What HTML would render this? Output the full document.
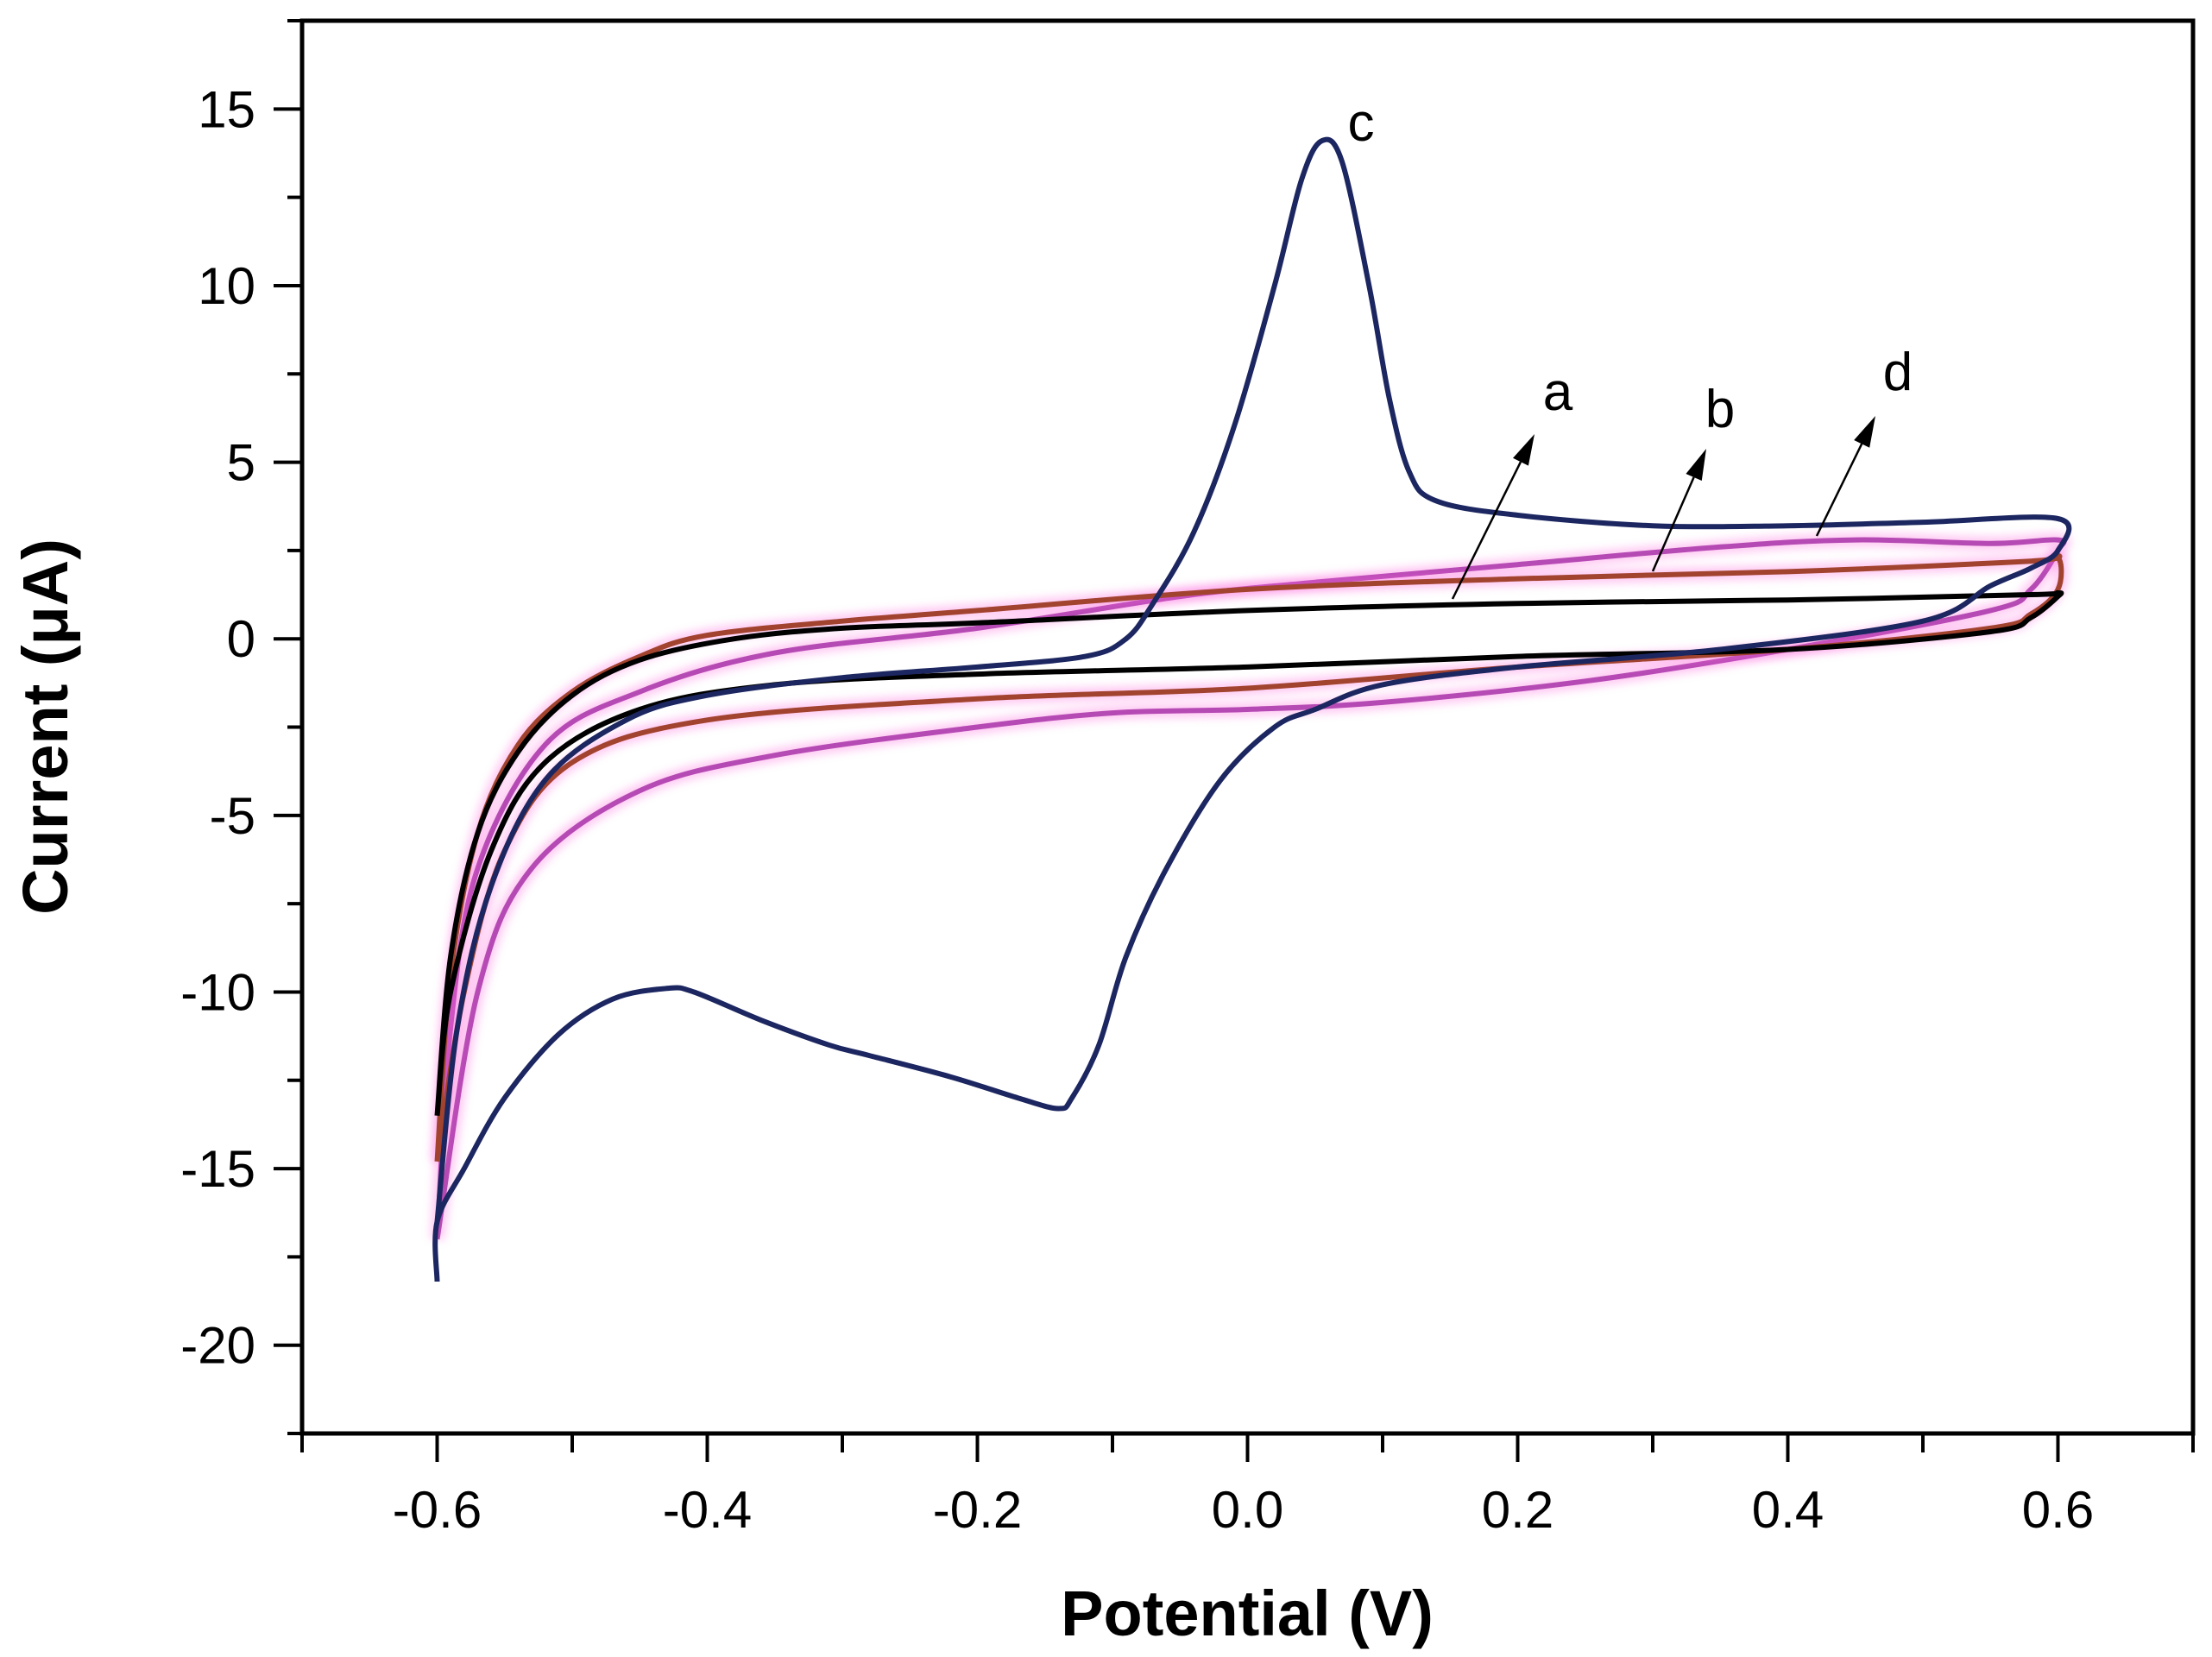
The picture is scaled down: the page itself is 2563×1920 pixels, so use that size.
<!DOCTYPE html>
<html><head><meta charset="utf-8"><style>
html,body{margin:0;padding:0;background:#fff;}
svg{display:block;}
text{font-family:"Liberation Sans",Arial,sans-serif;fill:#000;}
</style></head><body>
<svg id="chart" width="2563" height="1920" viewBox="0 0 2563 1920">
<defs><filter id="glow" x="-5%" y="-5%" width="110%" height="110%"><feGaussianBlur stdDeviation="5"/></filter></defs>
<g id="series"></g>
<g id="axes"></g>
</svg>
<script>
const xTicks=[-0.6,-0.4,-0.2,0.0,0.2,0.4,0.6];
const xTickLabels=["-0.6","-0.4","-0.2","0.0","0.2","0.4","0.6"];
const yTicks=[15,10,5,0,-5,-10,-15,-20];
const yTickLabels=["15","10","5","0","-5","-10","-15","-20"];
// curve a (black)
const aX=[-0.6,-0.59,-0.57,-0.54,-0.5,-0.45,-0.38,-0.3,-0.2,0,0.2,0.4,0.58,0.6,0.6,0.58,0.55,0.4,0.2,0,-0.2,-0.35,-0.45,-0.52,-0.56,-0.59,-0.6];
const aY=[-13.5,-9,-5.5,-3.2,-1.6,-0.6,0,0.3,0.45,0.8,1.0,1.1,1.25,1.3,1.2,0.6,0.2,-0.3,-0.5,-0.8,-1.0,-1.3,-2.0,-3.5,-6,-10,-13.5];
// curve b (brown)
const bX=[-0.6,-0.59,-0.57,-0.54,-0.5,-0.45,-0.4,-0.3,-0.2,0,0.2,0.4,0.58,0.6,0.6,0.58,0.55,0.4,0.2,0,-0.2,-0.4,-0.5,-0.55,-0.58,-0.6];
const bY=[-14.8,-9.5,-5.5,-3,-1.5,-0.5,0.1,0.5,0.8,1.4,1.7,1.9,2.2,2.3,1.4,0.7,0.3,-0.3,-0.8,-1.4,-1.7,-2.3,-3.5,-6,-10,-14.8];
// curve d (magenta)
const dX=[-0.6,-0.59,-0.57,-0.52,-0.45,-0.35,-0.2,-0.05,0.05,0.2,0.35,0.45,0.55,0.6,0.6,0.58,0.55,0.4,0.25,0.1,0,-0.1,-0.2,-0.35,-0.45,-0.53,-0.57,-0.6];
const dY=[-17,-11,-6.5,-3,-1.5,-0.4,0.3,1.2,1.6,2.1,2.6,2.8,2.7,2.8,2.5,1.4,0.8,-0.3,-1.2,-1.8,-2.0,-2.1,-2.5,-3.3,-4.3,-6.5,-10,-17];
// curve c (navy)
const cX=[-0.6,-0.585,-0.56,-0.52,-0.46,-0.4,-0.3,-0.2,-0.12,-0.09,-0.07,-0.04,-0.01,0.02,0.04,0.055,0.07,0.09,0.105,0.12,0.14,0.2,0.3,0.4,0.5,0.6,0.6,0.58,0.55,0.5,0.35,0.2,0.1,0.05,0.02,-0.02,-0.06,-0.09,-0.11,-0.13,-0.14,-0.17,-0.22,-0.28,-0.31,-0.36,-0.41,-0.43,-0.47,-0.51,-0.55,-0.58,-0.6,-0.6];
const cY=[-16.5,-11,-7,-4,-2.3,-1.6,-1.1,-0.8,-0.5,0,1,3,6,10,13,14.1,13.5,10,6.8,4.7,3.9,3.5,3.2,3.2,3.3,3.4,2.5,2.0,1.5,0.5,-0.3,-0.8,-1.3,-2,-2.5,-4,-6.5,-9,-11.5,-13,-13.3,-13,-12.4,-11.8,-11.5,-10.8,-10,-9.9,-10.2,-11.2,-13,-15,-16.5,-18.2];
const X0=350,X1=2541,Y0=24,Y1=1661,XMIN=-0.7,XMAX=0.7,YMIN=-22.5,YMAX=17.5;
function sx(v){return X0+(v-XMIN)/(XMAX-XMIN)*(X1-X0);}
function sy(v){return Y1-(v-YMIN)/(YMAX-YMIN)*(Y1-Y0);}
const NS="http://www.w3.org/2000/svg";
function el(tag,attrs,parent){const e=document.createElementNS(NS,tag);for(const k in attrs)e.setAttribute(k,attrs[k]);parent.appendChild(e);return e;}
function pathD(xs,ys){const p=xs.map((x,i)=>[sx(x),sy(ys[i])]);let d="M"+p[0][0].toFixed(1)+","+p[0][1].toFixed(1);
for(let i=0;i<p.length-1;i++){const p0=p[Math.max(0,i-1)],p1=p[i],p2=p[i+1],p3=p[Math.min(p.length-1,i+2)];
const c1=[p1[0]+(p2[0]-p0[0])/6,p1[1]+(p2[1]-p0[1])/6],c2=[p2[0]-(p3[0]-p1[0])/6,p2[1]-(p3[1]-p1[1])/6];
d+=" C"+c1[0].toFixed(1)+","+c1[1].toFixed(1)+" "+c2[0].toFixed(1)+","+c2[1].toFixed(1)+" "+p2[0].toFixed(1)+","+p2[1].toFixed(1);}return d;}
const sg=document.getElementById('series');
const curves=[["curve-d",dX,dY,"#b64ab4",true],["curve-b",bX,bY,"#a2432f",true],["curve-a",aX,aY,"#000000",false],["curve-c",cX,cY,"#1c2660",false]];
curves.forEach(c=>{
 if(c[4]){const g=el('path',{d:pathD(c[1],c[2]),fill:'none',stroke:'#ff66dd','stroke-width':16,opacity:0.35,filter:'url(#glow)'},sg);
 
 }
 const p=el('path',{d:pathD(c[1],c[2]),fill:'none',stroke:c[3],'stroke-width':6,'stroke-linejoin':'round'},sg);
 
 
});
const ag=document.getElementById('axes');
const frame=el('rect',{x:X0,y:Y0,width:X1-X0,height:Y1-Y0,fill:'none',stroke:'#000','stroke-width':5},ag);


for(let v=-0.7;v<=0.701;v+=0.1){const X=sx(v);const major=xTicks.some(t=>Math.abs(t-v)<1e-6);
 const t=el('line',{x1:X,y1:Y1,x2:X,y2:Y1+(major?33:22),stroke:'#000','stroke-width':4},ag);
 
 }
xTicks.forEach((v,i)=>{const t=el('text',{x:sx(v),y:1770,'font-size':60,'text-anchor':'middle'},ag);t.textContent=xTickLabels[i];
 
 });
for(let v=-22.5;v<=17.51;v+=2.5){const Y=sy(v);const major=yTicks.some(t=>Math.abs(t-v)<1e-6);
 const t=el('line',{x1:X0,y1:Y,x2:X0-(major?33:17),y2:Y,stroke:'#000','stroke-width':4},ag);
 
 }
yTicks.forEach((v,i)=>{const t=el('text',{x:296,y:sy(v)+21,'font-size':60,'text-anchor':'end'},ag);t.textContent=yTickLabels[i];
 
 });
const xt=el('text',{x:1445,y:1895,'font-size':74,'font-weight':'bold','text-anchor':'middle'},ag);xt.textContent="Potential (V)";


const yt=el('text',{x:0,y:0,'font-size':74,'font-weight':'bold','text-anchor':'middle',transform:'translate(78,842) rotate(-90)'},ag);yt.textContent="Current (μA)";


const labels=[["c",1577,163],["a",1805,475],["b",1993,495],["d",2199,452]];
labels.forEach(l=>{const t=el('text',{x:l[1],y:l[2],'font-size':62,'text-anchor':'middle'},ag);t.textContent=l[0];
 
 });
const arrows=[[1683,694,1778,503],[1915,662,1977,520],[2105,621,2173,482]];
arrows.forEach((a,i)=>{const dx=a[2]-a[0],dy=a[3]-a[1],L=Math.hypot(dx,dy),ux=dx/L,uy=dy/L;
 const bx=a[2]-ux*36,by=a[3]-uy*36;
 const ln=el('line',{x1:a[0],y1:a[1],x2:bx,y2:by,stroke:'#000','stroke-width':2.5},ag);
 
 
 const hd=el('polygon',{points:a[2]+","+a[3]+" "+(bx-uy*10)+","+(by+ux*10)+" "+(bx+uy*10)+","+(by-ux*10),fill:'#000'},ag);
 
 });
</script>
</body></html>
